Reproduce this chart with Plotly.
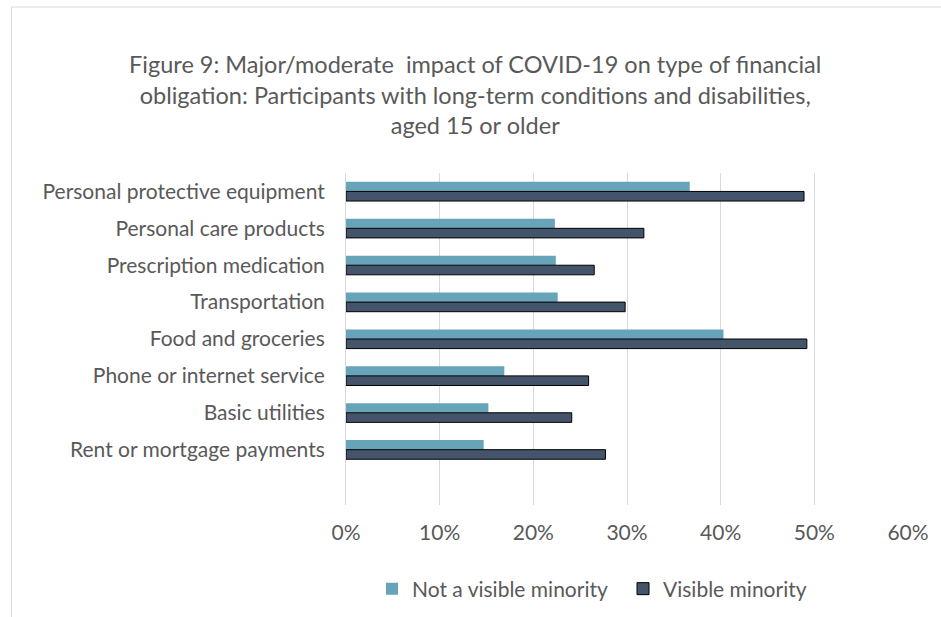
import plotly.graph_objects as go

categories = [
    "Personal protective equipment",
    "Personal care products",
    "Prescription medication",
    "Transportation",
    "Food and groceries",
    "Phone or internet service",
    "Basic utilities",
    "Rent or mortgage payments",
]
not_visible_minority = [36.7, 22.3, 22.4, 22.6, 40.3, 16.9, 15.2, 14.7]
visible_minority = [48.9, 31.8, 26.5, 29.8, 49.2, 25.9, 24.1, 27.7]
x_ticks = [0, 10, 20, 30, 40, 50, 60]
x_tick_labels = ["0%", "10%", "20%", "30%", "40%", "50%", "60%"]

W, H = 941, 617
ML, MR, MT, MB = 346, 29, 173, 112
pw, ph = W - ML - MR, H - MT - MB

FONT = "Lato"
GRAY = "#595959"

fig = go.Figure()
fig.add_trace(go.Bar(
    y=categories, x=not_visible_minority, orientation="h",
    name="Not a visible minority",
    marker=dict(color="#68A4B9", line=dict(color="#68A4B9", width=0)),
))
fig.add_trace(go.Bar(
    y=categories, x=visible_minority, orientation="h",
    name="Visible minority",
    marker=dict(color="#44546A", line=dict(color="#000000", width=1)),
))

fig.update_layout(
    width=W, height=H,
    margin=dict(l=ML, r=MR, t=MT, b=MB),
    paper_bgcolor="white", plot_bgcolor="white",
    barmode="group", bargap=0.48, bargroupgap=0,
    title=dict(
        text="Figure 9: Major/moderate  impact of COVID-19 on type of financial<br>"
             "obligation: Participants with long-term conditions and disabilities,<br>"
             "aged 15 or older",
        x=0.505, xref="container", xanchor="center",
        y=1 - 73 / H, yanchor="top",
        font=dict(family=FONT, size=23.5, color=GRAY),
    ),
    font=dict(family=FONT, size=21, color=GRAY),
    xaxis=dict(
        range=[0, 60], tickvals=x_ticks, ticktext=x_tick_labels,
        showgrid=True, gridcolor="#D9D9D9", gridwidth=1,
        zeroline=False, showline=False,
        tickfont=dict(family=FONT, size=21, color=GRAY),
        ticklabelstandoff=13,
        fixedrange=True,
    ),
    yaxis=dict(
        type="category",
        categoryorder="array", categoryarray=categories,
        range=[8.5, -0.5],
        showgrid=False, zeroline=False,
        showline=True, linecolor="#D9D9D9", linewidth=1,
        tickfont=dict(family=FONT, size=21, color=GRAY),
        ticklabelstandoff=16,
        fixedrange=True,
    ),
    legend=dict(
        orientation="h", x=372 / W, xref="container", xanchor="left",
        y=1 - 589 / H, yref="container", yanchor="middle",
        font=dict(family=FONT, size=21, color=GRAY),
        itemwidth=30, tracegroupgap=0,
        entrywidth=206, entrywidthmode="pixels",
    ),
    shapes=[dict(
        type="rect", xref="paper", yref="paper",
        x0=(9 - ML) / pw, x1=(W + 10 - ML) / pw,
        y0=(MT + ph - (H + 10)) / ph, y1=(MT + ph - 7) / ph,
        line=dict(color="#D9D9D9", width=1), fillcolor="rgba(0,0,0,0)",
        layer="below",
    )],
)

fig.write_html("out.html", config={"displayModeBar": False},
               post_script="document.body.style.margin='0';")
